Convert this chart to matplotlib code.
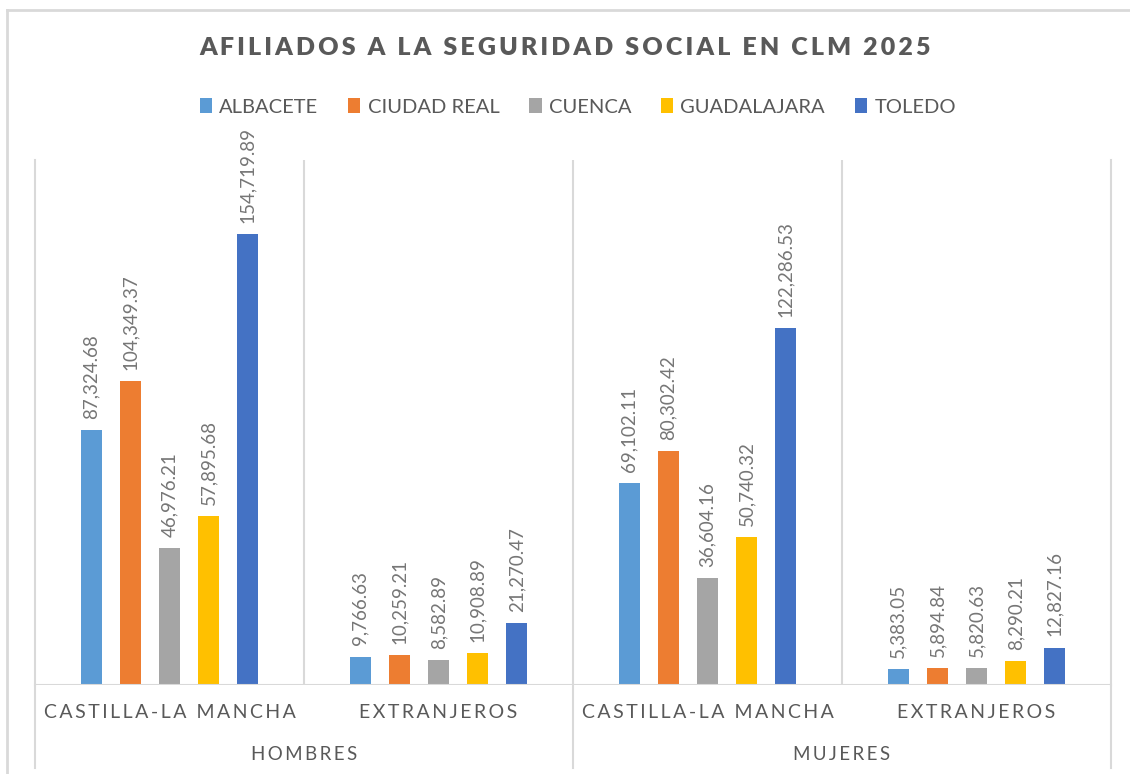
import matplotlib
matplotlib.use("Agg")
import matplotlib.pyplot as plt
from matplotlib.patches import Patch
from matplotlib.lines import Line2D
from matplotlib.transforms import blended_transform_factory

# Afiliados by province, grouped as (sexo, origen)
provinces = ["ALBACETE", "CIUDAD REAL", "CUENCA", "GUADALAJARA", "TOLEDO"]
colors = ["#5B9BD5", "#ED7D31", "#A5A5A5", "#FFC000", "#4472C4"]
sub_groups = ["CASTILLA-LA MANCHA", "EXTRANJEROS", "CASTILLA-LA MANCHA", "EXTRANJEROS"]
main_groups = ["HOMBRES", "MUJERES"]

albacete = [87324.68, 9766.63, 69102.11, 5383.05]
ciudad_real = [104349.37, 10259.21, 80302.42, 5894.84]
cuenca = [46976.21, 8582.89, 36604.16, 5820.63]
guadalajara = [57895.68, 10908.89, 50740.32, 8290.21]
toledo = [154719.89, 21270.47, 122286.53, 12827.16]
series = [albacete, ciudad_real, cuenca, guadalajara, toledo]

FONT = ["Lato", "DejaVu Sans"]
TEXT = "#595959"
LABEL = "#767676"
GRID = "#d9d9d9"

W, H = 1130, 774
BASE_Y, TOP_Y, LEFT_X, RIGHT_X = 685, 160, 35, 1111


def spaced(s, gap="\u2009"):
    return gap.join(s)


fig = plt.figure(figsize=(W / 100, H / 100), dpi=100)
fig.patch.set_facecolor("white")
ax = fig.add_axes([LEFT_X / W, (H - BASE_Y) / H,
                   (RIGHT_X - LEFT_X) / W, (BASE_Y - TOP_Y) / H])

step = 0.1455
width = 0.078
for i, (vals, col) in enumerate(zip(series, colors)):
    xs = [g + 0.5 + (i - 2) * step for g in range(len(vals))]
    bars = ax.bar(xs, vals, width=width, color=col, zorder=3)
    for b, v in zip(bars, vals):
        ax.annotate(f"{v:,.2f}", (b.get_x() + b.get_width() / 2, v),
                    xytext=(0, 8), textcoords="offset points",
                    rotation=90, ha="center", va="bottom",
                    fontsize=13.5, color=LABEL, family=FONT,
                    annotation_clip=False)

ax.set_xlim(0, 4)
ax.set_ylim(0, 180000)
ax.set_xticks([])
ax.set_yticks([])
for side in ["top", "bottom"]:
    ax.spines[side].set_visible(False)
for side in ["left", "right"]:
    ax.spines[side].set_color(GRID)
    ax.spines[side].set_linewidth(1.5)
ax.axhline(0, color=GRID, lw=1.5, zorder=4)
for x in [1, 2, 3]:
    ax.axvline(x, color=GRID, lw=1.5, zorder=1)

# multi-level category axis below the plot
trans = blended_transform_factory(ax.transData, fig.transFigure)
for x in [0, 2, 4]:
    ax.plot([x, x], [(H - BASE_Y) / H, (H - 768) / H], color=GRID, lw=1.5,
            transform=trans, clip_on=False)
for k, name in enumerate(sub_groups):
    ax.text(k + 0.5, (H - 713) / H, spaced(name), transform=trans,
            ha="center", va="center", fontsize=14, color=TEXT, family=FONT)
for k, name in enumerate(main_groups):
    ax.text(2 * k + 1, (H - 754) / H, spaced(name), transform=trans,
            ha="center", va="center", fontsize=13.5, color=TEXT, family=FONT)

# chart frame
fig.add_artist(Line2D([7 / W, 1.0], [(H - 10) / H] * 2, color=GRID, lw=2))
fig.add_artist(Line2D([7 / W] * 2, [(H - 10) / H, 0], color=GRID, lw=2))

fig.text(0.5, (H - 48) / H, spaced("AFILIADOS A LA SEGURIDAD SOCIAL EN CLM 2025"),
         ha="center", va="center", fontsize=18, fontweight="heavy",
         color=TEXT, family=FONT)

handles = [Patch(facecolor=c, label=p) for p, c in zip(provinces, colors)]
leg = fig.legend(handles=handles, loc="center", bbox_to_anchor=(578 / W, (H - 107) / H),
                 ncol=5, frameon=False, handlelength=0.6, handleheight=0.75,
                 handletextpad=0.35, columnspacing=1.5,
                 prop={"family": FONT, "size": 14.5})
for t in leg.get_texts():
    t.set_color(TEXT)

fig.savefig("out.png", dpi=100, facecolor="white")
